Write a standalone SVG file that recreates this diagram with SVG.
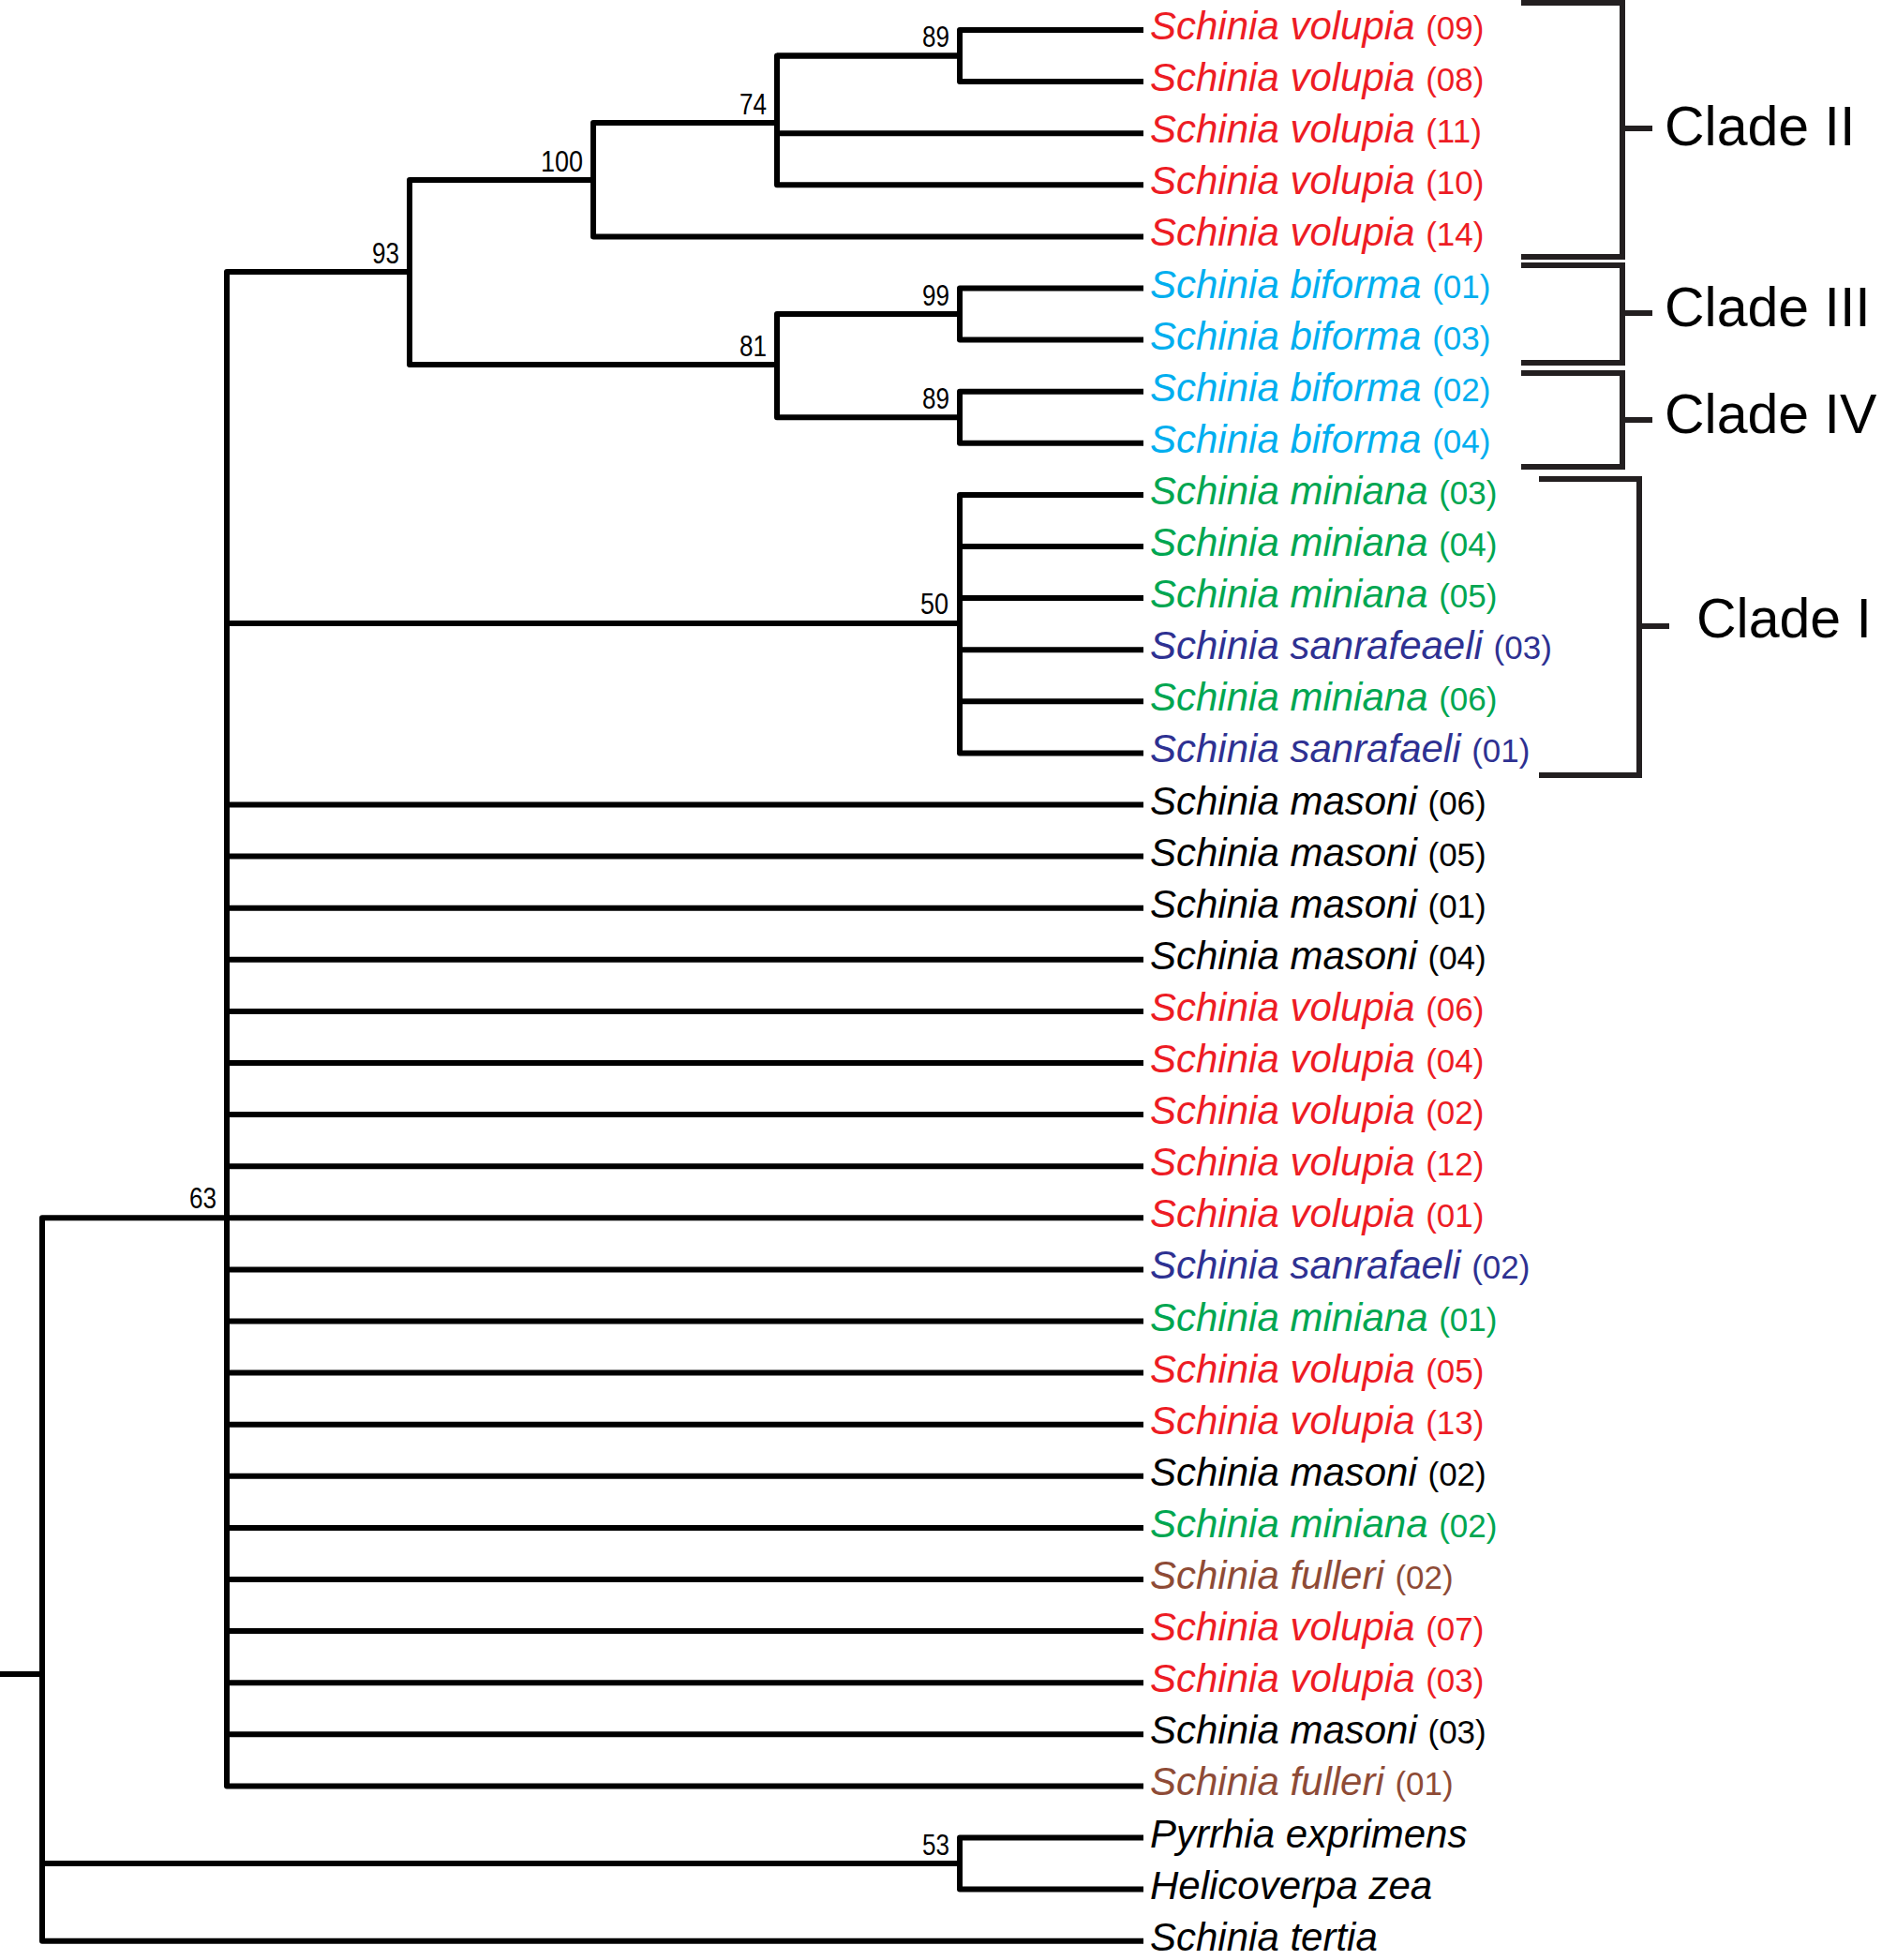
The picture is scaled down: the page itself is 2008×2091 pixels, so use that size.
<svg xmlns="http://www.w3.org/2000/svg" width="2008" height="2091" viewBox="0 0 2008 2091">
<style>
.br{fill:none;stroke:#000;stroke-width:6;stroke-linejoin:round;stroke-linecap:butt}
.bk{fill:none;stroke:#231F20;stroke-width:6;stroke-linejoin:miter}
.lf{font-family:"Liberation Sans",Arial,sans-serif;font-size:42px;font-style:italic}
.n{font-style:normal;font-size:35px}
.sv{font-family:"Liberation Sans",Arial,sans-serif;font-size:32px;text-anchor:end;fill:#000}
.cl{font-family:"Liberation Sans",Arial,sans-serif;font-size:59px;fill:#000}
.r{fill:#ED1C24}.c{fill:#00AEEF}.g{fill:#00A651}.b{fill:#2E3192}.o{fill:#8E4B36}.k{fill:#000}
</style>
<rect width="2008" height="2091" fill="#fff"/>
<g id="connectors">
<path class="br" d="M829,59.5 H1024 M1220,32 H1024 V87.1 H1220"/>
<path class="br" d="M1024,59.5 H829 V197.3 H1220 M829,142.2 H1220 M633,131 H829"/>
<path class="br" d="M829,131 H633 V252.4 H1220 M437,192 H633"/>
<path class="br" d="M633,192 H437 V389 H829 M242,290 H437"/>
<path class="br" d="M1024,335 H829 V445.2 H1024"/>
<path class="br" d="M1220,307.5 H1024 V362.6 H1220"/>
<path class="br" d="M1220,417.7 H1024 V472.8 H1220"/>
<path class="br" d="M1220,527.9 H1024 V803.4 H1220 M1024,583 H1220 M1024,638.1 H1220 M1024,693.2 H1220 M1024,748.3 H1220 M242,665 H1024"/>
<path class="br" d="M437,290 H242 V1905.4 H1220 M242,858.5 H1220 M242,913.6 H1220 M242,968.7 H1220 M242,1023.8 H1220 M242,1078.9 H1220 M242,1134 H1220 M242,1189.1 H1220 M242,1244.2 H1220 M242,1299.3 H1220 M242,1354.4 H1220 M242,1409.5 H1220 M242,1464.6 H1220 M242,1519.7 H1220 M242,1574.8 H1220 M242,1629.9 H1220 M242,1685 H1220 M242,1740.1 H1220 M242,1795.2 H1220 M242,1850.3 H1220"/>
<path class="br" d="M242,1299.3 H45 V2070.7 H1220 M45,1988 H1024 M0,1786 H45"/>
<path class="br" d="M1220,1960.5 H1024 V2015.6 H1220"/>
</g>
<g id="support">
<g id="node-89a"><text class="sv" x="1013" y="50" textLength="29" lengthAdjust="spacingAndGlyphs">89</text></g>
<g id="node-74"><text class="sv" x="818" y="122" textLength="29" lengthAdjust="spacingAndGlyphs">74</text></g>
<g id="node-100"><text class="sv" x="622" y="183" textLength="45" lengthAdjust="spacingAndGlyphs">100</text></g>
<g id="node-93"><text class="sv" x="426" y="281" textLength="29" lengthAdjust="spacingAndGlyphs">93</text></g>
<g id="node-99"><text class="sv" x="1013" y="326" textLength="29" lengthAdjust="spacingAndGlyphs">99</text></g>
<g id="node-81"><text class="sv" x="818" y="380" textLength="29" lengthAdjust="spacingAndGlyphs">81</text></g>
<g id="node-89b"><text class="sv" x="1013" y="436" textLength="29" lengthAdjust="spacingAndGlyphs">89</text></g>
<g id="node-50"><text class="sv" x="1012" y="655" textLength="30" lengthAdjust="spacingAndGlyphs">50</text></g>
<g id="node-63"><text class="sv" x="231" y="1289" textLength="29" lengthAdjust="spacingAndGlyphs">63</text></g>
<g id="node-53"><text class="sv" x="1013" y="1979" textLength="29" lengthAdjust="spacingAndGlyphs">53</text></g>
</g>
<g id="leaves">
<g id="leaf-01"><text class="lf r" x="1227" y="42">Schinia volupia <tspan class="n">(09)</tspan></text></g>
<g id="leaf-02"><text class="lf r" x="1227" y="97.1">Schinia volupia <tspan class="n">(08)</tspan></text></g>
<g id="leaf-03"><text class="lf r" x="1227" y="152.2">Schinia volupia <tspan class="n">(11)</tspan></text></g>
<g id="leaf-04"><text class="lf r" x="1227" y="207.3">Schinia volupia <tspan class="n">(10)</tspan></text></g>
<g id="leaf-05"><text class="lf r" x="1227" y="262.4">Schinia volupia <tspan class="n">(14)</tspan></text></g>
<g id="leaf-06"><text class="lf c" x="1227" y="317.5">Schinia biforma <tspan class="n">(01)</tspan></text></g>
<g id="leaf-07"><text class="lf c" x="1227" y="372.6">Schinia biforma <tspan class="n">(03)</tspan></text></g>
<g id="leaf-08"><text class="lf c" x="1227" y="427.7">Schinia biforma <tspan class="n">(02)</tspan></text></g>
<g id="leaf-09"><text class="lf c" x="1227" y="482.8">Schinia biforma <tspan class="n">(04)</tspan></text></g>
<g id="leaf-10"><text class="lf g" x="1227" y="537.9">Schinia miniana <tspan class="n">(03)</tspan></text></g>
<g id="leaf-11"><text class="lf g" x="1227" y="593">Schinia miniana <tspan class="n">(04)</tspan></text></g>
<g id="leaf-12"><text class="lf g" x="1227" y="648.1">Schinia miniana <tspan class="n">(05)</tspan></text></g>
<g id="leaf-13"><text class="lf b" x="1227" y="703.2">Schinia sanrafeaeli <tspan class="n">(03)</tspan></text></g>
<g id="leaf-14"><text class="lf g" x="1227" y="758.3">Schinia miniana <tspan class="n">(06)</tspan></text></g>
<g id="leaf-15"><text class="lf b" x="1227" y="813.4">Schinia sanrafaeli <tspan class="n">(01)</tspan></text></g>
<g id="leaf-16"><text class="lf k" x="1227" y="868.5">Schinia masoni <tspan class="n">(06)</tspan></text></g>
<g id="leaf-17"><text class="lf k" x="1227" y="923.6">Schinia masoni <tspan class="n">(05)</tspan></text></g>
<g id="leaf-18"><text class="lf k" x="1227" y="978.7">Schinia masoni <tspan class="n">(01)</tspan></text></g>
<g id="leaf-19"><text class="lf k" x="1227" y="1033.8">Schinia masoni <tspan class="n">(04)</tspan></text></g>
<g id="leaf-20"><text class="lf r" x="1227" y="1088.9">Schinia volupia <tspan class="n">(06)</tspan></text></g>
<g id="leaf-21"><text class="lf r" x="1227" y="1144">Schinia volupia <tspan class="n">(04)</tspan></text></g>
<g id="leaf-22"><text class="lf r" x="1227" y="1199.1">Schinia volupia <tspan class="n">(02)</tspan></text></g>
<g id="leaf-23"><text class="lf r" x="1227" y="1254.2">Schinia volupia <tspan class="n">(12)</tspan></text></g>
<g id="leaf-24"><text class="lf r" x="1227" y="1309.3">Schinia volupia <tspan class="n">(01)</tspan></text></g>
<g id="leaf-25"><text class="lf b" x="1227" y="1364.4">Schinia sanrafaeli <tspan class="n">(02)</tspan></text></g>
<g id="leaf-26"><text class="lf g" x="1227" y="1419.5">Schinia miniana <tspan class="n">(01)</tspan></text></g>
<g id="leaf-27"><text class="lf r" x="1227" y="1474.6">Schinia volupia <tspan class="n">(05)</tspan></text></g>
<g id="leaf-28"><text class="lf r" x="1227" y="1529.7">Schinia volupia <tspan class="n">(13)</tspan></text></g>
<g id="leaf-29"><text class="lf k" x="1227" y="1584.8">Schinia masoni <tspan class="n">(02)</tspan></text></g>
<g id="leaf-30"><text class="lf g" x="1227" y="1639.9">Schinia miniana <tspan class="n">(02)</tspan></text></g>
<g id="leaf-31"><text class="lf o" x="1227" y="1695">Schinia fulleri <tspan class="n">(02)</tspan></text></g>
<g id="leaf-32"><text class="lf r" x="1227" y="1750.1">Schinia volupia <tspan class="n">(07)</tspan></text></g>
<g id="leaf-33"><text class="lf r" x="1227" y="1805.2">Schinia volupia <tspan class="n">(03)</tspan></text></g>
<g id="leaf-34"><text class="lf k" x="1227" y="1860.3">Schinia masoni <tspan class="n">(03)</tspan></text></g>
<g id="leaf-35"><text class="lf o" x="1227" y="1915.4">Schinia fulleri <tspan class="n">(01)</tspan></text></g>
<g id="leaf-36"><text class="lf k" x="1227" y="1970.5">Pyrrhia exprimens</text></g>
<g id="leaf-37"><text class="lf k" x="1227" y="2025.6">Helicoverpa zea</text></g>
<g id="leaf-38"><text class="lf k" x="1227" y="2080.7">Schinia tertia</text></g>
</g>
<g id="clade-II"><path class="bk" d="M1623,3 H1731 V274 H1623 M1731,137 H1763"/><text class="cl" x="1776" y="155">Clade II</text></g>
<g id="clade-III"><path class="bk" d="M1623,283 H1731 V387 H1623 M1731,334 H1763"/><text class="cl" x="1776" y="348">Clade III</text></g>
<g id="clade-IV"><path class="bk" d="M1623,398 H1731 V498 H1623 M1731,448 H1763"/><text class="cl" x="1776" y="462">Clade IV</text></g>
<g id="clade-I"><path class="bk" d="M1642,511 H1749 V827 H1642 M1749,668 H1781"/><text class="cl" x="1810" y="680">Clade I</text></g>
</svg>
